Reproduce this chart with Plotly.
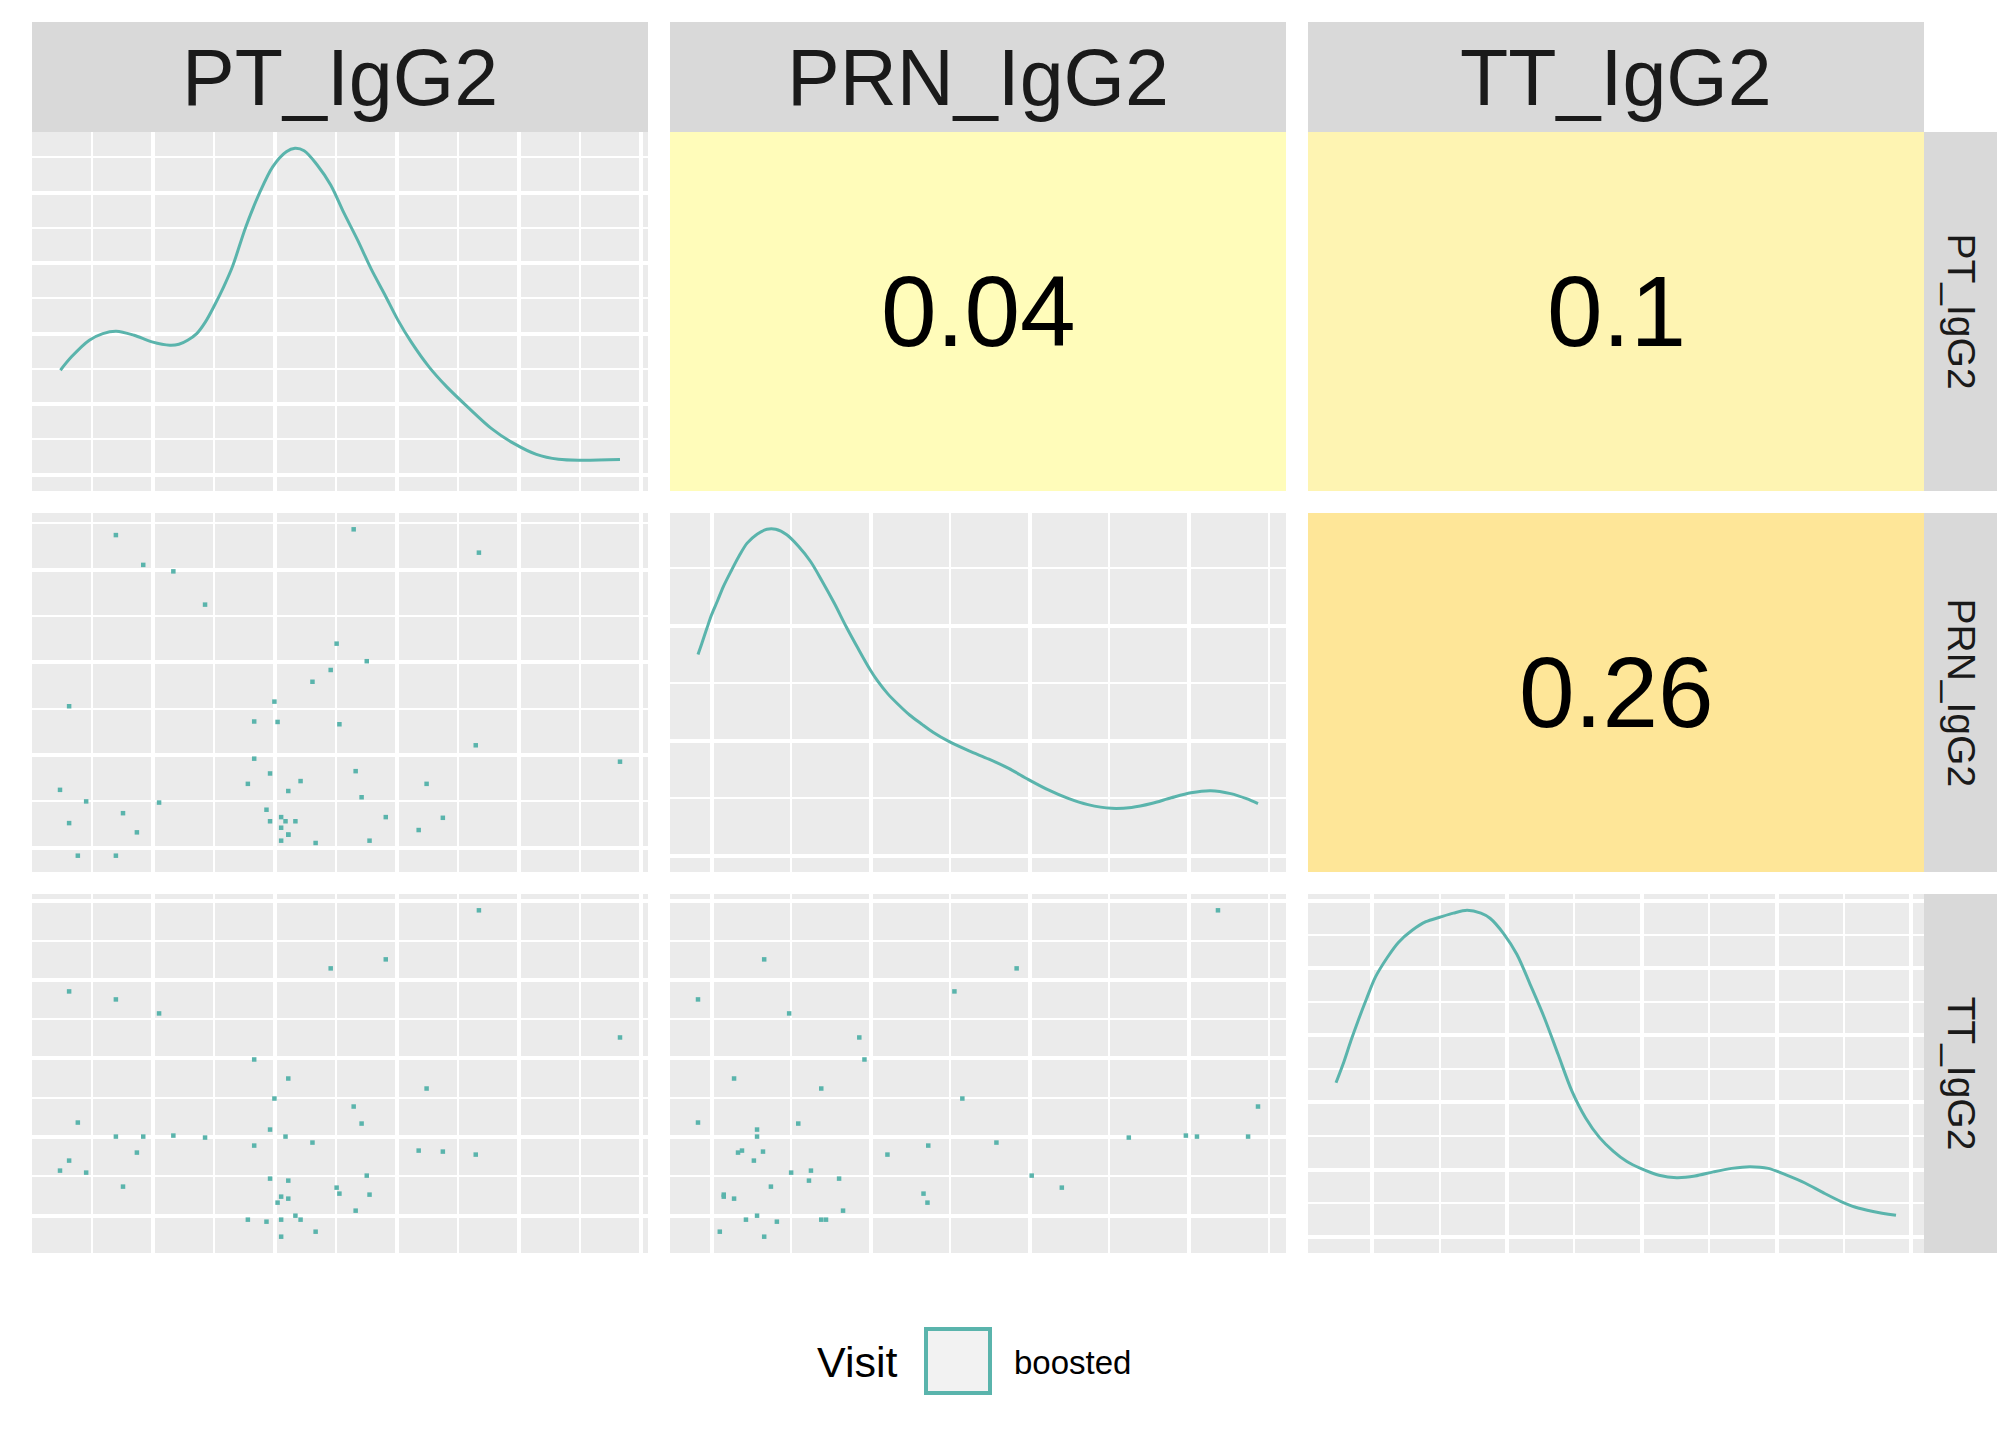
import plotly.graph_objects as go

W, H = 2016, 1440
OFF = 8  # page margin of the rendered html page

# ---------------- data ----------------
variables = ["PT_IgG2", "PRN_IgG2", "TT_IgG2"]

PT = [11.28, 8.93, 7.54, 0.94, 2.12, 3.21, 14.84, 5.61, 6.47, 9.96, 6.12, 8.12,
      1.16, 8.32, 6.01, 2.12, 2.81, 3.57, 4.37, 6.40, 7.08, 5.61, 9.76, 10.37,
      11.20, 2.65, 0.94, 0.71, 1.37, 8.45, 6.01, 6.47, 2.30, 7.69, 7.76, 8.52,
      6.29, 6.47, 6.20, 8.17, 6.65, 5.45, 5.92, 6.29, 6.78, 7.16, 6.29]
PRN = [13.78, 2.33, 8.70, 7.13, 0.66, 2.96, 4.73, 4.86, 1.57, 3.77, 7.33, 14.79,
       0.66, 3.19, 2.15, 14.54, 13.25, 12.97, 11.53, 2.15, 8.19, 6.47, 1.77, 2.30,
       5.44, 1.67, 2.07, 3.51, 3.01, 9.08, 4.22, 3.46, 2.50, 9.84, 6.35, 1.31,
       1.31, 1.57, 6.45, 4.32, 2.15, 3.77, 2.65, 1.87, 3.89, 1.21, 2.33]
TT = [10.26, 8.79, 8.52, 7.83, 7.59, 7.17, 6.45, 5.79, 5.22, 4.92, 4.62, 4.38,
      3.90, 3.87, 3.69, 3.48, 3.48, 3.51, 3.45, 3.48, 3.30, 3.21, 3.06, 3.03,
      2.94, 3.00, 2.76, 2.46, 2.40, 2.31, 2.22, 2.16, 1.98, 1.95, 1.77, 1.74,
      1.68, 1.62, 1.50, 1.26, 1.11, 0.99, 0.93, 0.99, 0.99, 0.63, 0.48]

# density curves (diagonal panels)
pt_dens_x = [0.72, 1.00, 1.45, 1.79, 2.13, 2.58, 3.03, 3.48, 3.71, 3.93, 4.16, 4.38,
             4.61, 4.84, 5.06, 5.40, 5.74, 6.08, 6.42, 6.64, 6.87, 7.20, 7.54, 7.88,
             8.22, 8.56, 8.90, 9.23, 9.57, 10.02, 10.47, 11.04, 11.60, 12.17, 12.73,
             13.29, 13.86, 14.84]
pt_dens_y = [0.0741, 0.0836, 0.0954, 0.1001, 0.1018, 0.0989, 0.0942, 0.0918, 0.0925, 0.0954,
             0.1001, 0.1084, 0.1202, 0.1333, 0.1475, 0.1759, 0.1995, 0.2185, 0.2291, 0.2315,
             0.2298, 0.2197, 0.2055, 0.1853, 0.1664, 0.1460, 0.1280, 0.1100, 0.0942, 0.0765,
             0.0623, 0.0469, 0.0327, 0.0220, 0.0144, 0.0109, 0.0102, 0.0107]

prn_dens_x = [0.66, 0.75, 0.88, 1.00, 1.15, 1.30, 1.50, 1.70, 1.90, 2.15, 2.40, 2.62,
              2.90, 3.20, 3.50, 3.80, 4.10, 4.40, 4.70, 5.00, 5.20, 5.45, 5.70, 6.00,
              6.30, 6.60, 7.00, 7.50, 8.00, 8.50, 9.00, 9.50, 10.00, 10.50, 11.10, 11.60,
              12.10, 12.60, 13.10, 13.60, 14.10, 14.50, 14.79]
prn_dens_y = [0.0875, 0.0920, 0.0987, 0.1047, 0.1108, 0.1171, 0.1240, 0.1305, 0.1360, 0.1399,
              0.1420, 0.1420, 0.1396, 0.1345, 0.1280, 0.1192, 0.1098, 0.0996, 0.0901, 0.0810,
              0.0758, 0.0704, 0.0660, 0.0612, 0.0573, 0.0536, 0.0496, 0.0456, 0.0420, 0.0380,
              0.0331, 0.0286, 0.0249, 0.0222, 0.0206, 0.0210, 0.0227, 0.0252, 0.0274, 0.0283,
              0.0270, 0.0248, 0.0227]

tt_dens_x = [0.48, 0.62, 0.74, 0.86, 1.01, 1.17, 1.37, 1.57, 1.81, 2.05, 2.29, 2.53,
             2.77, 3.01, 3.17, 3.41, 3.64, 3.88, 4.12, 4.36, 4.60, 4.84, 5.08, 5.32,
             5.56, 5.80, 6.12, 6.43, 6.75, 7.07, 7.39, 7.71, 8.03, 8.35, 8.67, 8.98,
             9.30, 9.54, 9.86, 10.26]
tt_dens_y = [0.1147, 0.1306, 0.1460, 0.1602, 0.1769, 0.1936, 0.2077, 0.2193, 0.2283, 0.2347,
             0.2380, 0.2411, 0.2432, 0.2411, 0.2373, 0.2257, 0.2103, 0.1871, 0.1630, 0.1357,
             0.1085, 0.0885, 0.0740, 0.0638, 0.0560, 0.0509, 0.0458, 0.0440, 0.0452, 0.0483,
             0.0509, 0.0522, 0.0509, 0.0458, 0.0400, 0.0330, 0.0262, 0.0221, 0.0188, 0.0159]

corr_labels = {(0, 1): "0.04", (0, 2): "0.1", (1, 2): "0.26"}
corr_colors = {(0, 1): "#FFFCBA", (0, 2): "#FEF4B2", (1, 2): "#FEE698"}

legend_title = "Visit"
legend_label = "boosted"

# ---------------- styling ----------------
TEAL = "#5ab4ac"
PANEL = "#EBEBEB"
STRIP = "#D9D9D9"
FONT = "Liberation Sans, Arial, sans-serif"

values = {0: PT, 1: PRN, 2: TT}
dens = {0: (pt_dens_x, pt_dens_y), 1: (prn_dens_x, prn_dens_y), 2: (tt_dens_x, tt_dens_y)}
# grid break definitions per variable (major tick0, major step)
grid = {0: (3.06, 3.08), 1: (1.01, 4.013), 2: (1.11, 2.355)}

cols_px = [(32, 648), (670, 1286), (1308, 1924)]
rows_px = [(132, 491), (513, 872), (894, 1253)]


def px_x(v):
    return (v - OFF) / W


def px_y(v):
    return 1 - (v - OFF) / H


def xdom(a, b):
    return [px_x(a), px_x(b)]


def ydom(top, bot):
    return [px_y(bot), px_y(top)]


def var_range(v):
    lo, hi = min(v), max(v)
    s = hi - lo
    return [lo - 0.05 * s, hi + 0.05 * s]


def axis_common(dom, rng, t0, dt, anchor):
    return dict(domain=dom, range=rng, anchor=anchor, showgrid=True, gridcolor="white",
                gridwidth=4, tick0=t0, dtick=dt, showticklabels=False, ticks="",
                zeroline=False, showline=False, fixedrange=True,
                minor=dict(tick0=t0, dtick=dt / 2, showgrid=True, gridcolor="white",
                           gridwidth=2, ticks=""))


fig = go.Figure()
layout_axes = {}
shapes = []
annotations = []

for r in range(3):
    for c in range(3):
        n = r * 3 + c + 1
        xa = "x" if n == 1 else f"x{n}"
        ya = "y" if n == 1 else f"y{n}"
        xkey = "xaxis" if n == 1 else f"xaxis{n}"
        ykey = "yaxis" if n == 1 else f"yaxis{n}"
        xd = xdom(*cols_px[c])
        yd = ydom(*rows_px[r])
        if r == c:
            dx, dy = dens[c]
            fig.add_trace(go.Scatter(x=dx, y=dy, mode="lines", xaxis=xa, yaxis=ya,
                                     line=dict(color=TEAL, width=3, shape="spline",
                                               smoothing=0.9),
                                     hoverinfo="skip"))
            m = max(dy)
            layout_axes[xkey] = axis_common(xd, var_range(values[c]), grid[c][0], grid[c][1], ya)
            layout_axes[ykey] = axis_common(yd, [-0.05 * m, 1.05 * m], 0, 0.05, xa)
        elif r > c:
            fig.add_trace(go.Scatter(x=values[c], y=values[r], mode="markers", xaxis=xa,
                                     yaxis=ya,
                                     marker=dict(color=TEAL, size=4.5, symbol="square",
                                                 line=dict(width=0)),
                                     hoverinfo="skip"))
            layout_axes[xkey] = axis_common(xd, var_range(values[c]), grid[c][0], grid[c][1], ya)
            layout_axes[ykey] = axis_common(yd, var_range(values[r]), grid[r][0], grid[r][1], xa)
        else:
            x0, x1 = cols_px[c]
            y0, y1 = rows_px[r]
            shapes.append(dict(type="rect", xref="paper", yref="paper",
                               x0=px_x(x0), x1=px_x(x1), y0=px_y(y1), y1=px_y(y0),
                               fillcolor=corr_colors[(r, c)], line=dict(width=0),
                               layer="above"))
            annotations.append(dict(xref="paper", yref="paper",
                                    x=px_x((x0 + x1) / 2), y=px_y((y0 + y1) / 2),
                                    text=corr_labels[(r, c)], showarrow=False,
                                    xanchor="center", yanchor="middle",
                                    font=dict(family=FONT, size=100, color="black")))

# top strips
for c, name in enumerate(variables):
    x0, x1 = cols_px[c]
    shapes.append(dict(type="rect", xref="paper", yref="paper", x0=px_x(x0), x1=px_x(x1),
                       y0=px_y(132), y1=px_y(22), fillcolor=STRIP, line=dict(width=0),
                       layer="above"))
    annotations.append(dict(xref="paper", yref="paper", x=px_x((x0 + x1) / 2), y=px_y(77),
                            text=name, showarrow=False, xanchor="center", yanchor="middle",
                            font=dict(family=FONT, size=79, color="#1A1A1A")))

# right strips
for r, name in enumerate(variables):
    y0, y1 = rows_px[r]
    shapes.append(dict(type="rect", xref="paper", yref="paper", x0=px_x(1924), x1=px_x(1997),
                       y0=px_y(y1), y1=px_y(y0), fillcolor=STRIP, line=dict(width=0),
                       layer="above"))
    annotations.append(dict(xref="paper", yref="paper", x=px_x(1961), y=px_y((y0 + y1) / 2),
                            text=name, showarrow=False, xanchor="center", yanchor="middle",
                            textangle=90,
                            font=dict(family=FONT, size=39, color="#1A1A1A")))

# legend
annotations.append(dict(xref="paper", yref="paper", x=px_x(815), y=px_y(1362),
                        text=legend_title, showarrow=False, xanchor="left", yanchor="middle",
                        font=dict(family=FONT, size=43, color="black")))
shapes.append(dict(type="rect", xref="paper", yref="paper", x0=px_x(926), x1=px_x(990),
                   y0=px_y(1393), y1=px_y(1329), fillcolor="#F2F2F2",
                   line=dict(color=TEAL, width=4), layer="above"))
annotations.append(dict(xref="paper", yref="paper", x=px_x(1012), y=px_y(1362),
                        text=legend_label, showarrow=False, xanchor="left", yanchor="middle",
                        font=dict(family=FONT, size=33, color="black")))

fig.update_layout(width=W, height=H, margin=dict(l=0, r=0, t=0, b=0),
                  paper_bgcolor="white", plot_bgcolor=PANEL, showlegend=False,
                  shapes=shapes, annotations=annotations, **layout_axes)

fig.write_html("out.html")
